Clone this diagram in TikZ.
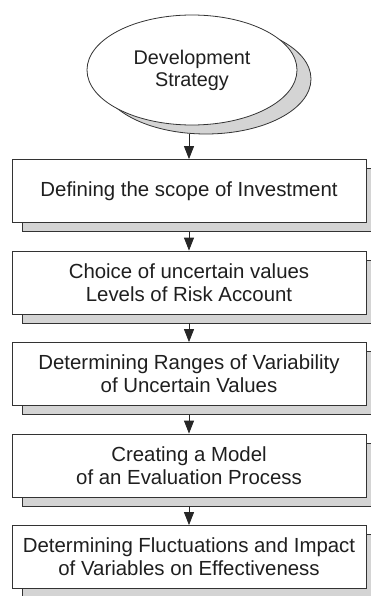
\documentclass[tikz,border=0pt]{standalone}
\usepackage{fontspec}
\setmainfont{Liberation Sans}
\usetikzlibrary{arrows.meta,shapes.geometric}
\begin{document}
\begin{tikzpicture}[x=1pt,y=-1pt,
  line width=0.8pt,
  txt/.style={align=center, font=\fontsize{20.4}{23}\selectfont, text=black!88},
  stepbox/.style={txt, draw=black!80, fill=white, minimum width=354pt, minimum height=63pt, inner sep=0pt},
  shadowbox/.style={draw=black!80, fill=black!17, minimum width=354pt, minimum height=63pt, inner sep=0pt},
  oval/.style={ellipse, draw=black!80, minimum width=210pt, minimum height=110pt, inner sep=0pt},
  arr/.style={-{Triangle[length=13pt,width=10pt]}, draw=black!85},
]
\useasboundingbox (0,0) rectangle (371,596);
\clip (0,0) rectangle (371,596);
% ellipse with shadow
\node[oval, fill=black!17] (dss) at (206,79) {};
\node[oval, fill=white, txt, font=\fontsize{19.8}{22}\selectfont] (ds) at (192,70) {Development\\Strategy};
% shadows
\node[shadowbox] (s1) at (199,200) {};
\node[shadowbox] (s2) at (199,291.5) {};
\node[shadowbox] (s3) at (199,383) {};
\node[shadowbox] (s4) at (199,474.5) {};
\node[shadowbox] (s5) at (199,566) {};
% boxes
\node[stepbox] (b1) at (189,191) {Defining the scope of Investment};
\node[stepbox] (b2) at (189,282.5) {Choice of uncertain values\\Levels of Risk Account};
\node[stepbox] (b3) at (189,374) {Determining Ranges of Variability\\of Uncertain Values};
\node[stepbox] (b4) at (189,465.5) {Creating a Model\\of an Evaluation Process};
\node[stepbox] (b5) at (189,557) {Determining Fluctuations and Impact\\of Variables on Effectiveness};
% arrows
\draw[arr] (dss.south -| b1.north) -- (b1.north);
\draw[arr] (s1.south -| b1.south) -- (b2.north);
\draw[arr] (s2.south -| b2.south) -- (b3.north);
\draw[arr] (s3.south -| b3.south) -- (b4.north);
\draw[arr] (s4.south -| b4.south) -- (b5.north);
\end{tikzpicture}
\end{document}
